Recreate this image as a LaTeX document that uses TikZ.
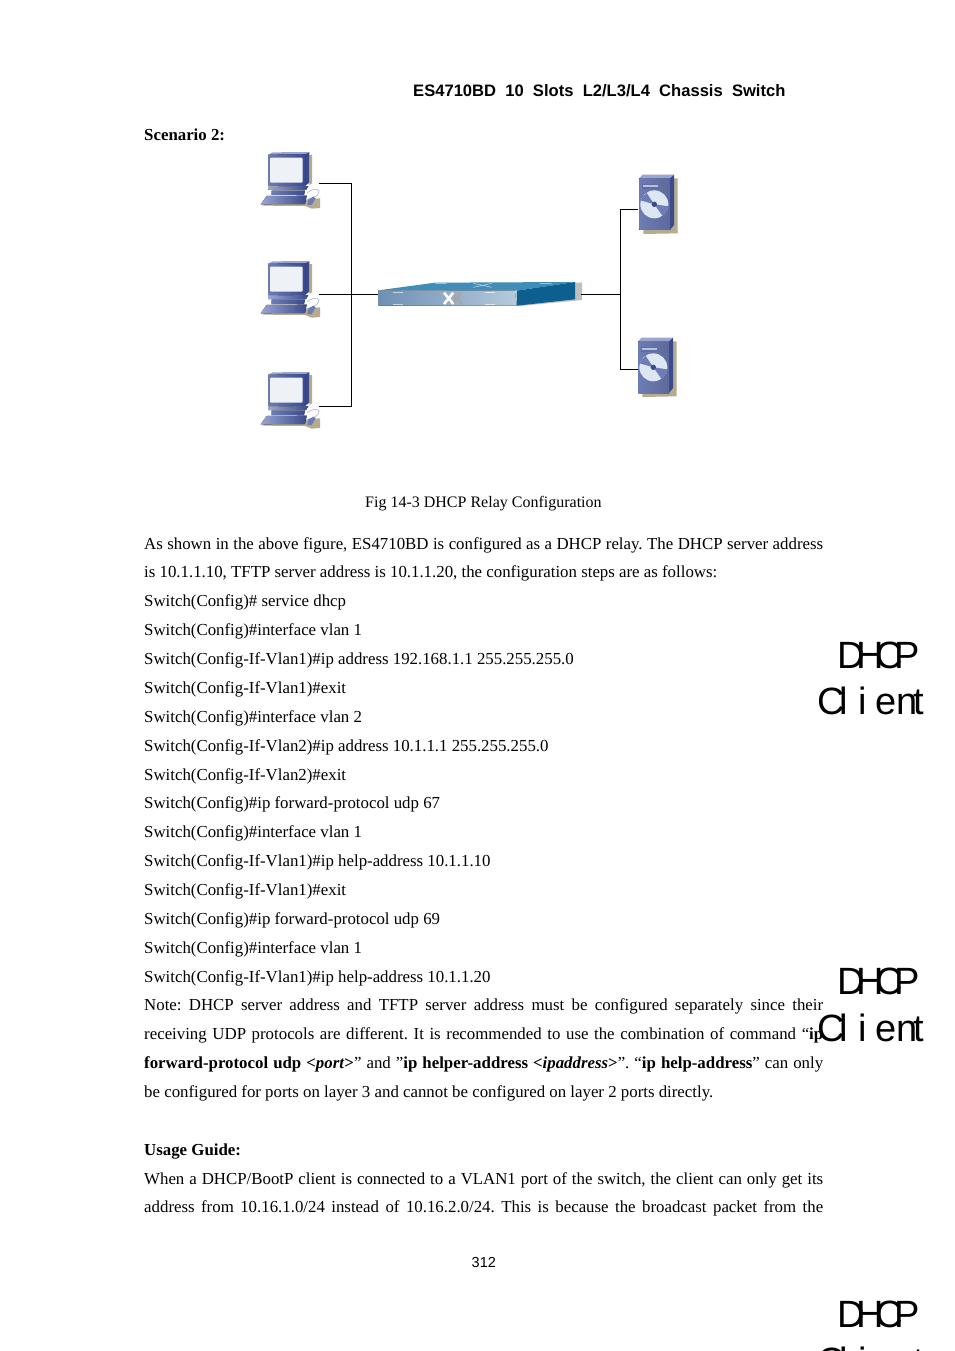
\documentclass[tikz,border=0pt]{standalone}
\usepackage{fontspec}
\setmainfont{Liberation Serif}
\newfontfamily\arialf{Liberation Sans}
\definecolor{tanshadow}{HTML}{B5AB8E}
\definecolor{pcdark}{HTML}{3A4A8C}
\definecolor{pcmid}{HTML}{6D7CB4}
\definecolor{pclight}{HTML}{9AA6D2}
\definecolor{screenc}{HTML}{EEF2F6}
\definecolor{swtop}{HTML}{3F8DB8}
\definecolor{swside}{HTML}{0D5F8F}
\definecolor{swfrontl}{HTML}{6F8FB5}
\definecolor{swfrontr}{HTML}{B5CBDC}
\definecolor{discc}{HTML}{DCE7F3}
\tikzset{
  body/.style={anchor=base west,inner sep=0pt,font=\fontsize{16.83}{20}\selectfont},
  head/.style={anchor=base west,inner sep=0pt,font=\arialf\bfseries\fontsize{16.58}{20}\selectfont},
  pagenum/.style={anchor=base west,inner sep=0pt,font=\arialf\fontsize{14.5}{18}\selectfont},
  big/.style={anchor=base west,inner sep=0pt,font=\arialf\fontsize{38}{40}\selectfont},
  link/.style={draw=black,line width=1.1pt},
  hit/.style={inner sep=0pt,minimum width=#1},
  pcicon/.pic={
    \fill[tanshadow] (38,197)--(52,178)--(172,178)--(210,175)--(210,204)--(185,206)--(165,198)--cycle;
    \fill[tanshadow] (178,45)--(186,45)--(186,130)--(178,135)--cycle;
    \fill[pcdark] (165,42)--(178,36)--(178,128)--(165,138)--cycle;
    \fill[pclight] (55,44)--(68,37)--(178,36)--(165,42)--cycle;
    \fill[left color=pcmid,right color=pcdark] (55,44)--(165,42)--(165,138)--(55,138)--cycle;
    \fill[screenc,rounded corners=1pt] (60,53)--(158,53)--(158,128)--(60,128)--cycle;
    \fill[left color=pclight,right color=pcdark] (55,140)--(175,138)--(168,150)--(55,150)--cycle;
    \fill[left color=pcmid,right color=pcdark] (65,152)--(165,152)--(162,165)--(65,165)--cycle;
    \fill[left color=pclight,right color=pcdark] (50,168)--(170,167)--(165,192)--(32,193)--cycle;
    \draw[pclight,line width=.5pt] (172,158) .. controls (195,140) and (215,150) .. (205,160) .. controls (200,170) and (195,170) .. (190,172);
    \fill[pcmid] (175,178)--(190,170)--(197,175)--(185,195)--(172,195)--cycle;
  },
  servericon/.pic={
    \fill[tanshadow] (192,40)--(203,40)--(203,205)--(100,207)--(100,192)--(192,180)--cycle;
    \fill[pclight] (88,40)--(97,29)--(192,29)--(180,40)--cycle;
    \fill[pcdark] (180,40)--(192,29)--(192,180)--(180,195)--cycle;
    \fill[left color=pcmid,right color=pcmid!85!black] (88,40)--(180,40)--(180,195)--(88,195)--cycle;
    \fill[pcdark!80!white] (97,56) rectangle (146,71);
    \fill[pclight!70!white] (99,60) rectangle (144,65);
    \fill[discc] (133,118) circle (42);
    \fill[pcmid] (133,118)--(110,84) .. controls (101,90) and (95,98) .. (92,106)--cycle;
    \fill[pcmid] (133,118)--(175,124) .. controls (173,136) and (166,147) .. (157,152)--cycle;
    \fill[pcdark] (133,118) circle (8);
  },
  switchicon/.pic={
    \fill[black!25] (612,38)--(636,38)--(636,90)--(440,109)--(440,100)--cycle;
    \fill[swtop] (25,61)--(195,38)--(615,36)--(440,62)--cycle;
    \fill[swside] (440,62)--(615,36)--(615,88)--(440,107)--cycle;
    \fill[left color=swfrontl,right color=swfrontr] (25,62)--(435,62)--(440,107)--(25,107)--cycle;
    \draw[white,opacity=.6,line width=.6pt] (70,66)--(100,66) (345,66)--(375,66) (70,103)--(100,103) (345,103)--(375,103);
    \draw[black!35,line width=2.6pt] (248,68)--(274,102) (274,68)--(248,102);
    \draw[white,line width=2.6pt] (222,68)--(250,102) (250,68)--(222,102);
    \draw[white,opacity=.7,line width=.5pt] (310,40)--(365,52) (365,40)--(310,52) (195,41)--(230,41) (510,41)--(545,41);
  }
}
\newcommand{\dhcpword}{D\kern-8pt H\kern-9pt C\kern-8pt P}
\newcommand{\clientword}{C\kern-5pt l\kern10pt i\kern9pt e\kern0pt n\kern-4pt t}
\newcommand{\just}[1]{\makebox[679pt][s]{#1}}
\begin{document}
\frenchspacing
\begin{tikzpicture}[x=1pt,y=-1pt]
\useasboundingbox (0,0) rectangle (954,1351);
\clip (0,0) rectangle (954,1351);
% header
\node[head] (hdr) at (413,97) {ES4710BD\ \ 10\ \ Slots\ \ L2/L3/L4\ \ Chassis\ \ Switch};
\node[body,font=\bfseries\fontsize{16.83}{20}\selectfont] (scen) at (144,141) {Scenario 2:};
% icons
\pic[scale=1/3] at (250,140) {pcicon};
\pic[scale=1/3] at (250,249) {pcicon};
\pic[scale=1/3] at (250,360) {pcicon};
\pic[scale=1/3] at (610,165) {servericon};
\pic[scale=1/3] at (609,328) {servericon};
\pic[scale=1/3] at (370,270) {switchicon};
% named anchors
\node[hit=58pt,minimum height=10pt] (pc1) at (290,183.5) {};
\node[hit=58pt,minimum height=10pt] (pc2) at (290,294.5) {};
\node[hit=58pt,minimum height=10pt] (pc3) at (290,406.5) {};
\node[hit=203pt,minimum height=10pt] (sw) at (479.5,294.5) {};
\node[hit=40pt,minimum height=10pt] (srv1) at (658,209.5) {};
\node[hit=40pt,minimum height=10pt] (srv2) at (658,369.5) {};
\coordinate (busL) at (351.5,294.5);
\coordinate (busR) at (620.5,294.5);
% connectors
\draw[link] (pc1.east) -| (busL) |- (pc3.east);
\draw[link] (pc2.east) -- (sw.west);
\draw[link] (sw.east) -- (busR);
\draw[link] (srv1.west) -| (busR) |- (srv2.west);
% caption and text
\node[body,font=\fontsize{16}{20}\selectfont] (cap) at (365,507) {Fig 14-3 DHCP Relay Configuration};
\node[body] (l01) at (144,549) {\just{As shown in the above figure, ES4710BD is configured as a DHCP relay. The DHCP server address}};
\node[body] (l02) at (144,577) {is 10.1.1.10, TFTP server address is 10.1.1.20, the configuration steps are as follows:};
\node[body] (l03) at (144,606) {Switch(Config)\# service dhcp};
\node[body] (l04) at (144,635) {Switch(Config)\#interface vlan 1};
\node[body] (l05) at (144,664) {Switch(Config-If-Vlan1)\#ip address 192.168.1.1 255.255.255.0};
\node[body] (l06) at (144,693) {Switch(Config-If-Vlan1)\#exit};
\node[body] (l07) at (144,722) {Switch(Config)\#interface vlan 2};
\node[body] (l08) at (144,751) {Switch(Config-If-Vlan2)\#ip address 10.1.1.1 255.255.255.0};
\node[body] (l09) at (144,780) {Switch(Config-If-Vlan2)\#exit};
\node[body] (l10) at (144,808) {Switch(Config)\#ip forward-protocol udp 67};
\node[body] (l11) at (144,837) {Switch(Config)\#interface vlan 1};
\node[body] (l12) at (144,866) {Switch(Config-If-Vlan1)\#ip help-address 10.1.1.10};
\node[body] (l13) at (144,895) {Switch(Config-If-Vlan1)\#exit};
\node[body] (l14) at (144,924) {Switch(Config)\#ip forward-protocol udp 69};
\node[body] (l15) at (144,953) {Switch(Config)\#interface vlan 1};
\node[body] (l16) at (144,982) {Switch(Config-If-Vlan1)\#ip help-address 10.1.1.20};
\node[body] (l17) at (144,1010) {\just{Note: DHCP server address and TFTP server address must be configured separately since their}};
\node[body] (l18) at (144,1039) {\just{receiving UDP protocols are different. It is recommended to use the combination of command “\textbf{ip}}};
\node[body] (l19) at (144,1068) {\just{\textbf{forward-protocol udp <\textit{port}>}” and ”\textbf{ip helper-address <\textit{ipaddress}>}”. “\textbf{ip help-address}” can only}};
\node[body] (l20) at (144,1097) {be configured for ports on layer 3 and cannot be configured on layer 2 ports directly.};
\node[body,font=\bfseries\fontsize{16.83}{20}\selectfont] (l21) at (144,1155) {Usage Guide:};
\node[body] (l22) at (144,1184) {\just{When a DHCP/BootP client is connected to a VLAN1 port of the switch, the client can only get its}};
\node[body] (l23) at (144,1212) {\just{address from 10.16.1.0/24 instead of 10.16.2.0/24. This is because the broadcast packet from the}};
\node[pagenum] (pg) at (471.5,1267) {312};
% overlaid labels
\node[big] (d1) at (837,668) {\dhcpword};
\node[big] (c1) at (817,714) {\clientword};
\node[big] (d2) at (837,994) {\dhcpword};
\node[big] (c2) at (817,1041) {\clientword};
\node[big] (d3) at (837,1327) {\dhcpword};
\node[big] (c3) at (817,1374) {\clientword};
\end{tikzpicture}
\end{document}
